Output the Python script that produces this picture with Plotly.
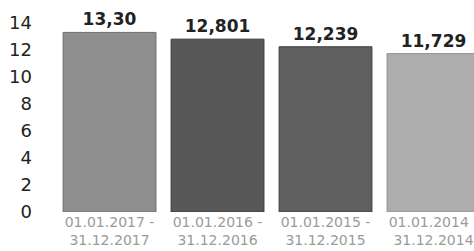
import plotly.graph_objects as go

periods = ["01.01.2017 -<br>31.12.2017", "01.01.2016 -<br>31.12.2016",
           "01.01.2015 -<br>31.12.2015", "01.01.2014 -<br>31.12.2014"]
values = [13.30, 12.801, 12.239, 11.729]
value_labels = ["13,30", "12,801", "12,239", "11,729"]
bar_colors = ["#8e8e8e", "#585858", "#5f5f5f", "#adadad"]
line_colors = ["#6e6e6e", "#3a3a3a", "#404040", "#8e8e8e"]
y_ticks = [0, 2, 4, 6, 8, 10, 12, 14]

x = list(range(len(values)))

fig = go.Figure(go.Bar(
    x=x, y=values,
    width=0.86,
    marker=dict(color=bar_colors, line=dict(color=line_colors, width=1)),
    text=value_labels, textposition="outside", cliponaxis=False,
    textfont=dict(family="DejaVu Sans", size=17, color="#222222", weight="bold"),
))

fig.update_layout(
    width=474, height=251,
    margin=dict(l=55, r=0, t=10, b=39),
    paper_bgcolor="white", plot_bgcolor="white",
    showlegend=False,
    xaxis=dict(range=[-0.505, 3.375], tickvals=x, ticktext=periods,
               showgrid=False, zeroline=False, showline=False, ticks="",
               automargin=False, ticklabeloverflow="allow",
               tickfont=dict(family="DejaVu Sans", size=14, color="#9a9a9a")),
    yaxis=dict(range=[0, 14.96], tickvals=y_ticks, showgrid=False,
               zeroline=False, showline=False, ticks="", ticklabelstandoff=22,
               automargin=False,
               tickfont=dict(family="DejaVu Sans", size=18, color="#222222")),
    bargap=0.14,
)

fig.write_html("out.html",
               config={"displayModeBar": False},
               post_script="document.body.style.margin='0';document.body.style.overflow='hidden';")
